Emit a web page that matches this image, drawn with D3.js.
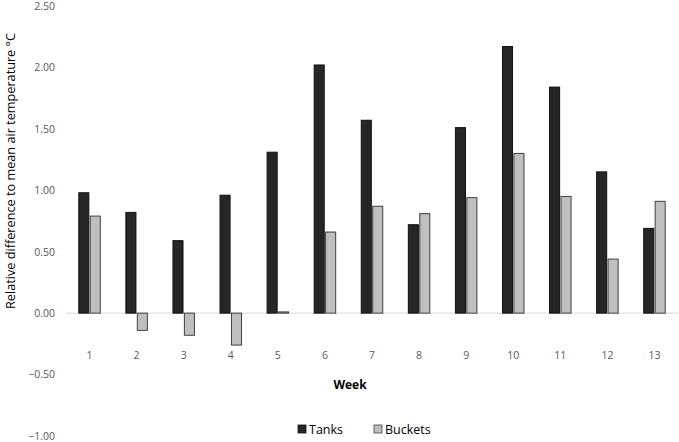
<!DOCTYPE html>
<html>
<head>
<meta charset="utf-8">
<script src="https://cdn.jsdelivr.net/npm/d3@7"></script>
<style>
  html, body { margin: 0; padding: 0; background: #fff; }
  svg { display: block; }
  text { font-family: "Open Sans", "Liberation Sans", sans-serif; }
</style>
</head>
<body>
<script>
const weeks = ["1","2","3","4","5","6","7","8","9","10","11","12","13"];
const tanks = [0.98, 0.82, 0.59, 0.96, 1.31, 2.02, 1.57, 0.72, 1.51, 2.17, 1.84, 1.15, 0.69];
const buckets = [0.79, -0.14, -0.18, -0.26, 0.01, 0.66, 0.87, 0.81, 0.94, 1.30, 0.95, 0.44, 0.91];
const yTicks = [-1.0, -0.5, 0, 0.5, 1.0, 1.5, 2.0, 2.5];
const seriesNames = ["Tanks", "Buckets"];

const W = 679, H = 442;
const svg = d3.select("body").append("svg").attr("width", W).attr("height", H);

const y = d3.scaleLinear().domain([-1, 2.5]).range([436, 6]);
const x = d3.scaleBand().domain(weeks).range([66, 678]).paddingInner(0).paddingOuter(0);
const sub = d3.scaleBand().domain(seriesNames).range([0, x.bandwidth()]).paddingInner(0.12).paddingOuter(1.12);

const fill = { Tanks: "#262626", Buckets: "#bfbfbf" };
const stroke = { Tanks: "#111", Buckets: "#404040" };

// Y axis labels
const yAxis = d3.axisLeft(y).tickValues(yTicks).tickFormat(d3.format(".2f")).tickSize(0).tickPadding(0);
const gy = svg.append("g").attr("transform", "translate(55,0)").call(yAxis);
gy.select(".domain").remove();
gy.selectAll("text").attr("fill", "#595959").style("font-size", "10.5px")
  .style("font-family", '"Open Sans", sans-serif');

// zero line
svg.append("line").attr("x1", 66).attr("x2", 679).attr("y1", y(0)).attr("y2", y(0))
  .attr("stroke", "#d9d9d9").attr("stroke-width", 1);

// bars
const data = weeks.map((w, i) => ({ week: w, Tanks: tanks[i], Buckets: buckets[i] }));
const groups = svg.append("g").selectAll("g").data(data).join("g")
  .attr("transform", d => `translate(${x(d.week)},0)`);
groups.selectAll("rect").data(d => seriesNames.map(k => ({ key: k, value: d[k] }))).join("rect")
  .attr("x", d => sub(d.key))
  .attr("width", sub.bandwidth())
  .attr("y", d => y(Math.max(0, d.value)))
  .attr("height", d => Math.abs(y(d.value) - y(0)))
  .attr("fill", d => fill[d.key])
  .attr("stroke", d => stroke[d.key])
  .attr("stroke-width", 1);

// X axis labels
const xAxis = d3.axisBottom(x).tickSize(0).tickPadding(0);
const gx = svg.append("g").attr("transform", "translate(0,352)").call(xAxis);
gx.select(".domain").remove();
gx.selectAll("text").attr("fill", "#595959").style("font-size", "10.5px")
  .style("font-family", '"Open Sans", sans-serif');

// Axis titles
svg.append("text").attr("x", 350).attr("y", 389).attr("text-anchor", "middle")
  .style("font-size", "12px").style("font-weight", "bold").attr("fill", "#000").text("Week");
svg.append("text").attr("transform", "translate(15,171) rotate(-90)").attr("text-anchor", "middle")
  .style("font-size", "12.7px").attr("fill", "#000").text("Relative difference to mean air temperature °C");

// Legend
const legend = svg.append("g");
const legX = [298, 374];
seriesNames.forEach((k, i) => {
  legend.append("rect").attr("x", legX[i]).attr("y", 425).attr("width", 8).attr("height", 8)
    .attr("fill", fill[k]).attr("stroke", stroke[k]).attr("stroke-width", 0.8);
  legend.append("text").attr("x", legX[i] + 11).attr("y", 434)
    .style("font-size", "12.5px").attr("fill", "#000").text(k);
});
</script>
</body>
</html>
